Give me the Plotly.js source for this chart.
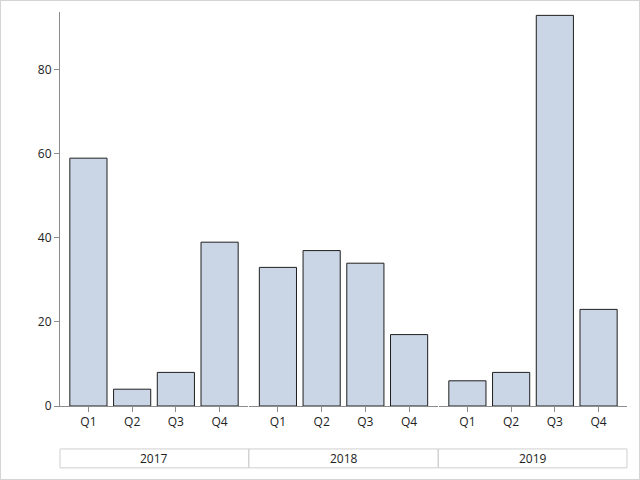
<!DOCTYPE html>
<html>
<head>
<meta charset="utf-8">
<script src="https://cdn.plot.ly/plotly-3.0.1.min.js"></script>
<style>
  html, body { margin: 0; padding: 0; background: #fff; }
  #wrap { position: relative; width: 640px; height: 480px; }
  #chart { width: 640px; height: 480px; }
  #frame { position: absolute; left: 0; top: 0; width: 640px; height: 480px; box-sizing: border-box; border: 1px solid #d4d4d4; pointer-events: none; }
</style>
</head>
<body>
<div id="wrap"><div id="chart"></div><div id="frame"></div></div>
<script>
const years = ['2017', '2018', '2019'];
const quarters = ['Q1', 'Q2', 'Q3', 'Q4'];
const values2017 = [59, 4, 8, 39];
const values2018 = [33, 37, 34, 17];
const values2019 = [6, 8, 93, 23];
const seriesByYear = [values2017, values2018, values2019];

const domains = [[0, 0.3316], [0.3342, 0.6658], [0.6684, 1]];
const fillColor = '#cad5e5';
const lineColor = '#1f1f1f';
const axisColor = '#8c8c8c';
const font = { family: '"Open Sans", "Noto Sans", sans-serif', size: 12, color: '#222' };

const traces = seriesByYear.map((vals, i) => ({
  type: 'bar',
  x: quarters,
  y: vals,
  xaxis: i === 0 ? 'x' : 'x' + (i + 1),
  yaxis: 'y',
  width: 0.85,
  marker: { color: fillColor, line: { color: lineColor, width: 1 } },
  hoverinfo: 'x+y',
  showlegend: false
}));

const layout = {
  width: 640, height: 480,
  margin: { l: 60, r: 13, t: 12, b: 74 },
  paper_bgcolor: '#fff', plot_bgcolor: '#fff',
  font: font,
  showlegend: false,
  yaxis: {
    range: [0, 93.8], tickvals: [0, 20, 40, 60, 80],
    showgrid: false, zeroline: false,
    showline: true, linecolor: axisColor, linewidth: 1,
    ticks: 'outside', ticklen: 5, tickcolor: axisColor,
    tickfont: font
  },
  shapes: [],
  annotations: []
};

years.forEach((yr, i) => {
  const key = i === 0 ? 'xaxis' : 'xaxis' + (i + 1);
  layout[key] = {
    domain: domains[i],
    type: 'category',
    categoryorder: 'array', categoryarray: quarters,
    range: [-0.65, 3.65],
    showgrid: false, zeroline: false,
    showline: true, linecolor: axisColor, linewidth: 1,
    ticks: 'outside', ticklen: 5, tickcolor: axisColor,
    tickfont: font,
    anchor: 'y', fixedrange: true
  };
  const x0 = i === 0 ? 0 : (domains[i - 1][1] + domains[i][0]) / 2;
  const x1 = i === years.length - 1 ? 1 : (domains[i][1] + domains[i + 1][0]) / 2;
  layout.shapes.push({
    type: 'rect', xref: 'paper', yref: 'paper',
    x0: x0, x1: x1, y0: -0.157, y1: -0.109,
    line: { color: '#cfcfcf', width: 1 }, fillcolor: 'rgba(0,0,0,0)'
  });
  layout.annotations.push({
    xref: 'paper', yref: 'paper', x: (x0 + x1) / 2, y: -0.133,
    text: yr, showarrow: false, xanchor: 'center', yanchor: 'middle',
    font: font
  });
});

Plotly.newPlot('chart', traces, layout, { displayModeBar: false, staticPlot: true });
</script>
</body>
</html>
